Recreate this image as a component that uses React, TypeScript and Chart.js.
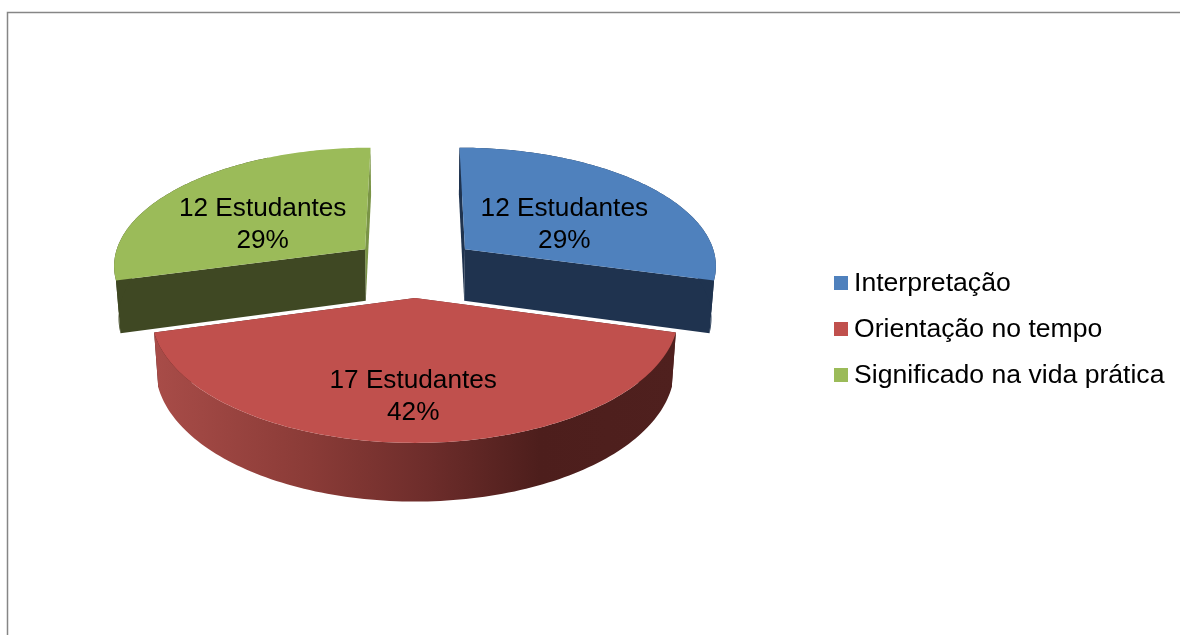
import { useEffect, useRef } from "react";
import { Chart, registerables } from "chart.js";

Chart.register(...registerables);

const categories = ["Interpretação", "Orientação no tempo", "Significado na vida prática"];
const students = [12, 17, 12];
const percentLabels = ["29%", "42%", "29%"];
const unitLabel = "Estudantes";
const topColors = ["#4f81bd", "#c0504d", "#9bbb59"];
const wallColors = ["#1f334f", "#4d1f1d", "#3f4823"];
const endFaceColors = ["#1f334f", "#4d1f1d", "#7a9446"];
const labelRadii = [0.47, 0.712, 0.481];
const labelAngleShifts = [9.7, 0.5, -10.4];

// Tilted-disc projection shared by the slice surfaces and walls.
const RADIUS = 253;
const EXPLODE = 64;
const DEPTH_SCALE = 118.4;
const WALL_HEIGHT = 53;
const PERSPECTIVE = 8;
const WALL_SHRINK = 0.12;

type Slice = { x: number; y: number; startAngle: number; endAngle: number; outerRadius: number };

function project(el: Slice, offset: number, angle: number, radius: number, z: number) {
  const mid = (el.startAngle + el.endAngle) / 2;
  const u = (radius * Math.cos(angle) + offset * Math.cos(mid)) / el.outerRadius;
  const v = (radius * Math.sin(angle) + offset * Math.sin(mid)) / el.outerRadius;
  const s = PERSPECTIVE / (PERSPECTIVE - v + WALL_SHRINK * z);
  return { x: el.x + el.outerRadius * u * s, y: el.y + (DEPTH_SCALE * v + WALL_HEIGHT * z) * s };
}

function fillPolygon(ctx: CanvasRenderingContext2D, pts: { x: number; y: number }[], fill: string | CanvasGradient) {
  ctx.beginPath();
  pts.forEach((p, i) => (i ? ctx.lineTo(p.x, p.y) : ctx.moveTo(p.x, p.y)));
  ctx.closePath();
  ctx.fillStyle = fill;
  ctx.fill();
}

function rimPoints(el: Slice, offset: number, z: number) {
  const pts = [];
  const steps = 120;
  for (let i = 0; i <= steps; i++) {
    const a = el.startAngle + ((el.endAngle - el.startAngle) * i) / steps;
    pts.push(project(el, offset, a, el.outerRadius, z));
  }
  return pts;
}

const pie3d = {
  id: "pie3d",
  beforeDraw(chart: any) {
    const { ctx, width, height } = chart;
    ctx.save();
    ctx.strokeStyle = "#868686";
    ctx.lineWidth = 1.5;
    ctx.beginPath();
    ctx.moveTo(7.5, height);
    ctx.lineTo(7.5, 12.5);
    ctx.lineTo(width, 12.5);
    ctx.stroke();
    ctx.restore();
  },
  beforeDatasetsDraw(chart: any) {
    const { ctx } = chart;
    const arcs = chart.getDatasetMeta(0).data;

    // Slices further from the viewer are painted first.
    const order = arcs
      .map((_: any, i: number) => i)
      .sort((a: number, b: number) => students[a] - students[b]);

    order.forEach((i: number) => {
      const el = arcs[i];
      const offset = el.options.offset;
      const apexTop = project(el, offset, 0, 0, 0);
      const apexBottom = project(el, offset, 0, 0, 1);
      const topRim = rimPoints(el, offset, 0);
      const bottomRim = rimPoints(el, offset, 1);

      let wall: string | CanvasGradient = wallColors[i];
      if (i === 1) {
        const g = ctx.createLinearGradient(155, 0, 675, 0);
        g.addColorStop(0, "#a84c48");
        g.addColorStop(0.3, "#8a3b37");
        g.addColorStop(0.52, "#6e2d2b");
        g.addColorStop(0.74, "#4d1e1c");
        g.addColorStop(1, "#4f201e");
        wall = g;
      }

      const last = topRim.length - 1;
      fillPolygon(ctx, [apexTop, topRim[last], bottomRim[last], apexBottom], endFaceColors[i]);
      fillPolygon(ctx, [apexTop, topRim[0], bottomRim[0], apexBottom], wall);
      fillPolygon(ctx, [...topRim.slice(0, i === 2 ? 90 : last + 1), ...bottomRim.slice(0, i === 2 ? 90 : last + 1).reverse()], wall);
      fillPolygon(ctx, [apexTop, ...topRim], topColors[i]);
    });

    // Value labels sit on the top surface of each slice.
    ctx.save();
    ctx.fillStyle = "#000000";
    ctx.font = '26.2px "Liberation Sans"';
    ctx.textAlign = "center";
    ctx.textBaseline = "middle";
    arcs.forEach((el: any, i: number) => {
      const mid = (el.startAngle + el.endAngle) / 2 + (labelAngleShifts[i] * Math.PI) / 180;
      const p = project(el, el.options.offset, mid, el.outerRadius * labelRadii[i], 0);
      ctx.fillText(`${students[i]} ${unitLabel}`, p.x, p.y - 16);
      ctx.fillText(percentLabels[i], p.x, p.y + 16);
    });
    ctx.restore();

    // Category key, right of the pie.
    ctx.save();
    ctx.font = '26.6px "Liberation Sans"';
    ctx.textAlign = "left";
    ctx.textBaseline = "middle";
    chart.data.labels.forEach((label: string, i: number) => {
      const y = 283 + i * 46;
      ctx.fillStyle = topColors[i];
      ctx.fillRect(834, y - 7, 14, 14);
      ctx.fillStyle = "#000000";
      ctx.fillText(label, 854, y + 1);
    });
    ctx.restore();

    return false;
  },
};

export default function App() {
  const canvasRef = useRef<HTMLCanvasElement>(null);

  useEffect(() => {
    const chart = new Chart(canvasRef.current!, {
      type: "pie",
      plugins: [pie3d],
      data: {
        labels: categories,
        datasets: [
          {
            data: students,
            backgroundColor: topColors,
            borderWidth: 0,
            offset: EXPLODE,
          },
        ],
      },
      options: {
        animation: false,
        responsive: false,
        radius: RADIUS,
        layout: { padding: { left: 0, top: 0, right: 350, bottom: 101 } },
        plugins: { legend: { display: false }, tooltip: { enabled: false } },
      },
    } as any);
    return () => chart.destroy();
  }, []);

  return (
    <canvas
      ref={canvasRef}
      width={1180}
      height={635}
      style={{ position: "absolute", left: 0, top: 0, display: "block" }}
    />
  );
}
